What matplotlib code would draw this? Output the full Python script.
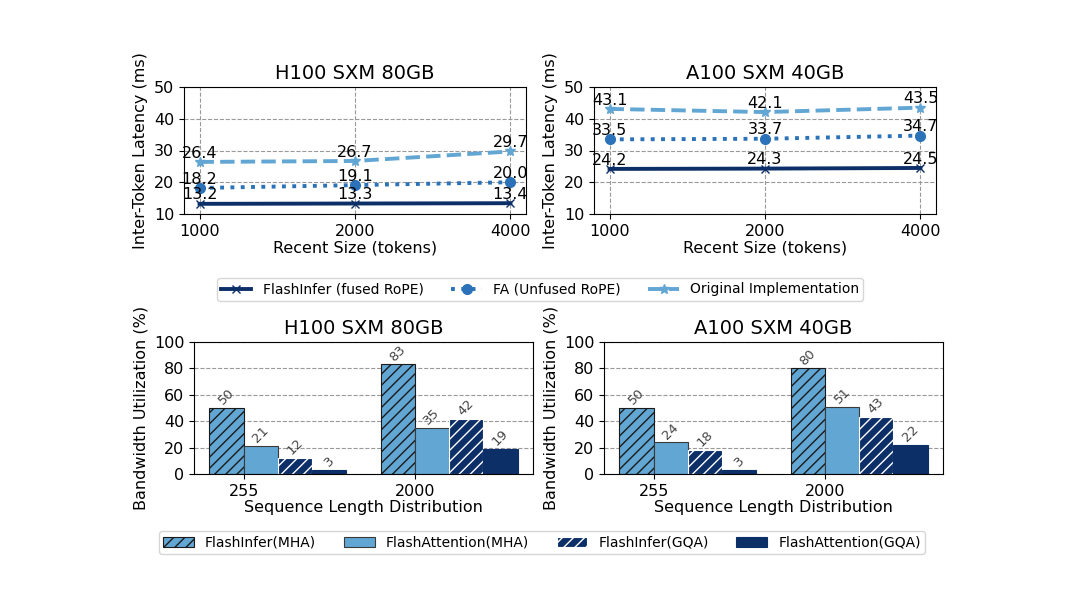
import matplotlib
matplotlib.use("Agg")
import matplotlib.pyplot as plt
import numpy as np

# ---- data ----
recent_sizes = ["1000", "2000", "4000"]
h100_flashinfer = [13.2, 13.3, 13.4]
h100_fa = [18.2, 19.1, 20.0]
h100_orig = [26.4, 26.7, 29.7]
a100_flashinfer = [24.2, 24.3, 24.5]
a100_fa = [33.5, 33.7, 34.7]
a100_orig = [43.1, 42.1, 43.5]

seq_dists = ["255", "2000"]
h100_fi_mha = [50, 83]
h100_fa_mha = [21, 35]
h100_fi_gqa = [12, 42]
h100_fa_gqa = [3, 19]
a100_fi_mha = [50, 80]
a100_fa_mha = [24, 51]
a100_fi_gqa = [18, 43]
a100_fa_gqa = [3, 22]

line_names = ["FlashInfer (fused RoPE)", "FA (Unfused RoPE)", "Original Implementation"]
bar_names = ["FlashInfer(MHA)", "FlashAttention(MHA)", "FlashInfer(GQA)", "FlashAttention(GQA)"]

LIGHT = "#62a6d4"
MED = "#2b72b8"
NAVY = "#0c2f68"

plt.rcParams["font.family"] = ["DejaVu Sans"]

fig = plt.figure(figsize=(10.8, 5.93), dpi=100)
W, H = 1080, 593

def ax_at(l, t, r, b):
    return fig.add_axes([l / W, 1 - b / H, (r - l) / W, (b - t) / H])

ax_tl = ax_at(184, 87, 526, 214)
ax_tr = ax_at(594, 87, 936, 214)
ax_bl = ax_at(194, 342, 533, 474)
ax_br = ax_at(604, 342, 943, 474)

FS = 11.5

def line_panel(ax, title, fi, fa, orig):
    x = np.arange(len(recent_sizes))
    styles = [
        (fi, NAVY, "-", "x", 6),
        (fa, MED, ":", "o", 7),
        (orig, LIGHT, "--", "*", 7),
    ]
    handles = []
    for (vals, c, ls, m, ms), name in zip(styles, line_names):
        h, = ax.plot(x, vals, color=c, linestyle=ls, marker=m, markersize=ms,
                     linewidth=2.8, label=name)
        handles.append(h)
        for xi, v in zip(x, vals):
            ax.annotate(f"{v:.1f}", (xi, v), xytext=(0, 1), textcoords="offset points",
                        ha="center", va="bottom", fontsize=FS)
    ax.set_xticks(x)
    ax.set_xticklabels(recent_sizes, fontsize=FS)
    ax.set_ylim(10, 50)
    ax.set_yticks([10, 20, 30, 40, 50])
    ax.tick_params(axis="y", labelsize=FS)
    ax.grid(True, linestyle="--", color="#999999", linewidth=0.8)
    ax.set_axisbelow(True)
    ax.set_title(title, fontsize=14, pad=6)
    ax.set_xlabel("Recent Size (tokens)", fontsize=FS, labelpad=1)
    ax.set_ylabel("Inter-Token Latency (ms)", fontsize=FS)
    return handles

def bar_panel(ax, title, fi_mha, fa_mha, fi_gqa, fa_gqa):
    x = np.arange(len(seq_dists))
    w = 0.2
    specs = [
        (fi_mha, LIGHT, "#1a1a1a", "///"),
        (fa_mha, LIGHT, "#3a3a3a", None),
        (fi_gqa, NAVY, "white", "///"),
        (fa_gqa, NAVY, NAVY, None),
    ]
    handles = []
    for i, ((vals, fc, ec, hatch), name) in enumerate(zip(specs, bar_names)):
        bars = ax.bar(x + (i - 0.5) * w, vals, width=w, color=fc, edgecolor=ec,
                      hatch=hatch, linewidth=0.8, label=name)
        handles.append(bars)
        for b, v in zip(bars, vals):
            ax.text(b.get_x() + b.get_width() / 2, v + 0.5, f"{v}", rotation=45,
                    ha="center", va="bottom", fontsize=9.5, color="#444444")
    ax.set_xticks(x)
    ax.set_xticklabels(seq_dists, fontsize=FS)
    ax.set_ylim(0, 100)
    ax.set_yticks([0, 20, 40, 60, 80, 100])
    ax.tick_params(axis="y", labelsize=FS)
    ax.yaxis.grid(True, linestyle="--", color="#999999", linewidth=0.8)
    ax.set_axisbelow(True)
    ax.set_title(title, fontsize=14, pad=6)
    ax.set_xlabel("Sequence Length Distribution", fontsize=FS, labelpad=1)
    ax.set_ylabel("Bandwidth Utilization (%)", fontsize=FS)
    return handles

lh = line_panel(ax_tl, "H100 SXM 80GB", h100_flashinfer, h100_fa, h100_orig)
line_panel(ax_tr, "A100 SXM 40GB", a100_flashinfer, a100_fa, a100_orig)
bh = bar_panel(ax_bl, "H100 SXM 80GB", h100_fi_mha, h100_fa_mha, h100_fi_gqa, h100_fa_gqa)
bar_panel(ax_br, "A100 SXM 40GB", a100_fi_mha, a100_fa_mha, a100_fi_gqa, a100_fa_gqa)

fig.legend(handles=lh, labels=line_names, loc="center", ncol=3,
           bbox_to_anchor=(540 / W, 1 - 289.5 / H), fontsize=10,
           frameon=True, handlelength=2.2, columnspacing=2.0,
           borderpad=0.3)
fig.legend(handles=bh, labels=bar_names, loc="center", ncol=4,
           bbox_to_anchor=(542 / W, 1 - 542.5 / H), fontsize=10,
           frameon=True, handlelength=2.2, columnspacing=2.0,
           borderpad=0.3)

fig.savefig("out.png", dpi=100)
